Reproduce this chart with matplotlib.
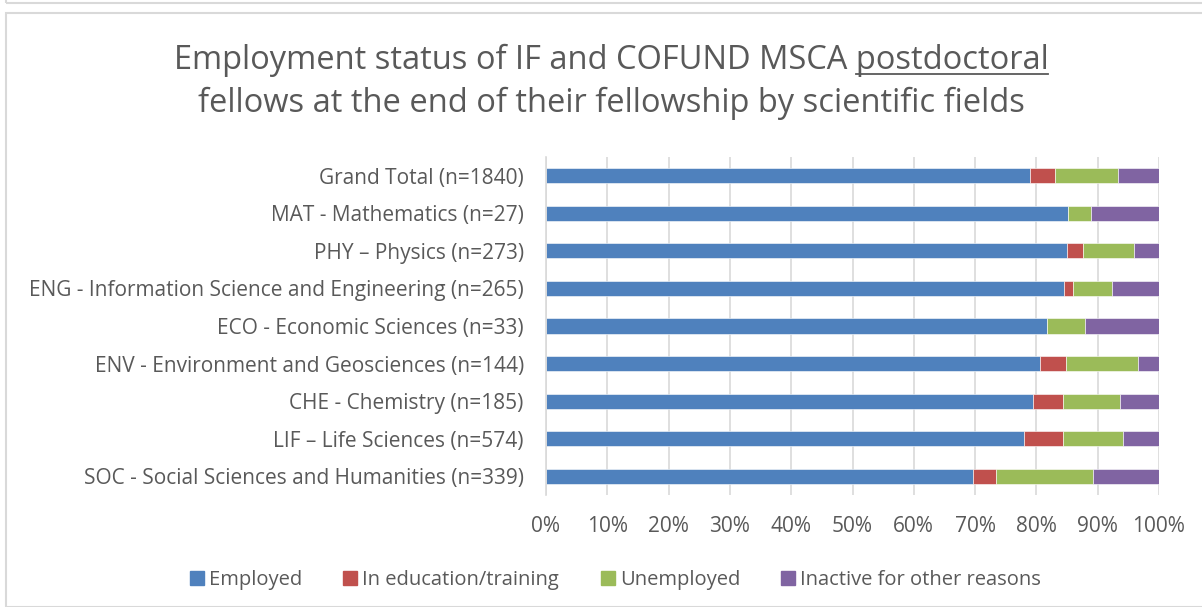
import matplotlib.pyplot as plt
import numpy as np
from matplotlib.patches import Rectangle
from matplotlib.lines import Line2D

plt.rcParams['font.family'] = ['Open Sans', 'DejaVu Sans']

# fields, bottom to top
fields = ['SOC - Social Sciences and Humanities (n=339)',
          'LIF \u2013 Life Sciences (n=574)',
          'CHE - Chemistry (n=185)',
          'ENV - Environment and Geosciences (n=144)',
          'ECO - Economic Sciences (n=33)',
          'ENG - Information Science and Engineering (n=265)',
          'PHY \u2013 Physics (n=273)',
          'MAT - Mathematics (n=27)',
          'Grand Total (n=1840)']

# shares in percent, same order as fields
employed   = [69.6, 78.0, 79.5, 80.6, 81.8, 84.5, 85.0, 85.2, 79.0]
education  = [3.8, 6.3, 4.9, 4.2, 0.0, 1.5, 2.6, 0.0, 4.0]
unemployed = [15.9, 9.9, 9.2, 11.8, 6.1, 6.4, 8.4, 3.7, 10.3]
inactive   = [10.7, 5.8, 6.4, 3.4, 12.1, 7.6, 4.0, 11.1, 6.7]

series = [('Employed', employed, '#4F81BD'),
          ('In education/training', education, '#C0504D'),
          ('Unemployed', unemployed, '#9BBB59'),
          ('Inactive for other reasons', inactive, '#8064A2')]

txt = '#595959'
W, H = 1202, 607
fig = plt.figure(figsize=(W / 100, H / 100), dpi=100)

# outer chart frames (Excel look)
fig.patches.append(Rectangle((6 / W, 0), 1.2, (H - 13) / H, transform=fig.transFigure,
                             fill=False, edgecolor='#d9d9d9', linewidth=1.5))
fig.patches.append(Rectangle((6 / W, (H - 3) / H), 1.2, 0.5, transform=fig.transFigure,
                             fill=False, edgecolor='#d9d9d9', linewidth=1.5))

ax = fig.add_axes([546 / W, 1 - 495 / H, (1159 - 546) / W, (495 - 157) / H])

y = np.arange(len(fields))
left = np.zeros(len(fields))
handles = []
for name, vals, col in series:
    vals = np.array(vals)
    ax.barh(y, vals, left=left, height=0.4, color=col, edgecolor='white', linewidth=0.4)
    left += vals
    handles.append(Line2D([], [], marker='s', linestyle='', markersize=10,
                          markerfacecolor=col, markeredgecolor=col, label=name))

ax.set_xlim(0, 100)
ax.set_ylim(-0.5, len(fields) - 0.5)
ax.set_xticks(np.arange(0, 101, 10))
ax.set_xticklabels([f'{v}%' for v in range(0, 101, 10)])
ax.set_yticks(y)
ax.set_yticklabels(fields)
ax.tick_params(axis='both', length=0, labelsize=15, labelcolor=txt)
ax.tick_params(axis='y', pad=16)
ax.tick_params(axis='x', pad=15)
ax.grid(axis='x', color='#d9d9d9', linewidth=1.2)
ax.set_axisbelow(True)
for s in ['top', 'right', 'bottom']:
    ax.spines[s].set_visible(False)
ax.spines['left'].set_color('#d9d9d9')
ax.spines['left'].set_linewidth(1.2)

# title with underlined word
tfs = 23.5
t1 = fig.text(611 / W, 1 - 60 / H, 'Employment status of IF and COFUND MSCA postdoctoral',
              ha='center', va='center', fontsize=tfs, color=txt)
fig.text(611 / W, 1 - 103 / H, 'fellows at the end of their fellowship by scientific fields',
         ha='center', va='center', fontsize=tfs, color=txt)
fig.canvas.draw()
r = fig.canvas.get_renderer()
bb = t1.get_window_extent(r)
tmp = fig.text(0, 0, 'postdoctoral', fontsize=tfs)
wd = tmp.get_window_extent(r).width
tmp.remove()
fig.add_artist(Line2D([(bb.x1 - wd) / W, bb.x1 / W], [(bb.y0 + 3) / H] * 2,
                      transform=fig.transFigure, color=txt, linewidth=1.3))

fig.legend(handles=handles, loc='center', bbox_to_anchor=(614 / W, 1 - 580 / H), ncol=4,
           frameon=False, fontsize=14.5, labelcolor=txt, handletextpad=0.1,
           columnspacing=1.9, handlelength=1.0)

fig.savefig('out.png', dpi=100)
